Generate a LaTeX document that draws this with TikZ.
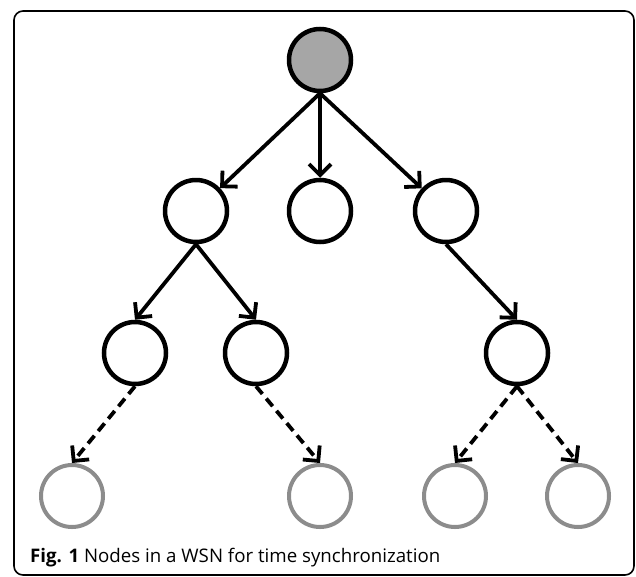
\documentclass[tikz,border=0pt]{standalone}
\usepackage{fontspec}
\setmainfont{Open Sans}
\usetikzlibrary{arrows.meta}
\definecolor{rootfill}{HTML}{A6A6A6}
\definecolor{leafgray}{HTML}{8C8C8C}
\tikzset{
  nd/.style={circle,draw=black,line width=4.5pt,minimum size=62pt,inner sep=0pt},
  rootnd/.style={nd,fill=rootfill},
  leafnd/.style={nd,draw=leafgray,line width=4pt},
  arr/.style={line width=3.8pt,-{Straight Barb[length=11pt,width=22pt,line width=3.8pt]}},
  darr/.style={arr,dash pattern=on 10pt off 6pt},
}
\begin{document}
\begin{tikzpicture}[x=1pt,y=-1pt]
\useasboundingbox (0,0) rectangle (636,576);
\draw[line width=1.6pt,rounded corners=9pt] (14,11) rectangle (634,575);
\node[rootnd] (r) at (320,60) {};
\node[nd] (a) at (196,211) {};
\node[nd] (b) at (320,211) {};
\node[nd] (c) at (446,211) {};
\node[nd] (a1) at (135,353) {};
\node[nd] (a2) at (256,353) {};
\node[nd] (c1) at (517,353) {};
\node[leafnd] (l1) at (72,496) {};
\node[leafnd] (l2) at (320,496) {};
\node[leafnd] (l3) at (455,496) {};
\node[leafnd] (l4) at (578,496) {};
\draw[arr] (r.south) -- (a);
\draw[arr] (r.south) -- (b.north);
\draw[arr] (r.south) -- (c);
\draw[arr] (a.south) -- (a1.north);
\draw[arr] (a.south) -- (a2.north);
\draw[arr] (c.south) -- (c1.north);
\draw[darr] (a1.south) -- (l1.north);
\draw[darr] (a2.south) -- (l2.north);
\draw[darr] (c1.south) -- (l3.north);
\draw[darr] (c1.south) -- (l4.north);
\node[anchor=base west,inner sep=0pt] (cap) at (30,562)
  {\resizebox{410pt}{!}{\textbf{Fig. 1} Nodes in a WSN for time synchronization}};
\end{tikzpicture}
\end{document}
